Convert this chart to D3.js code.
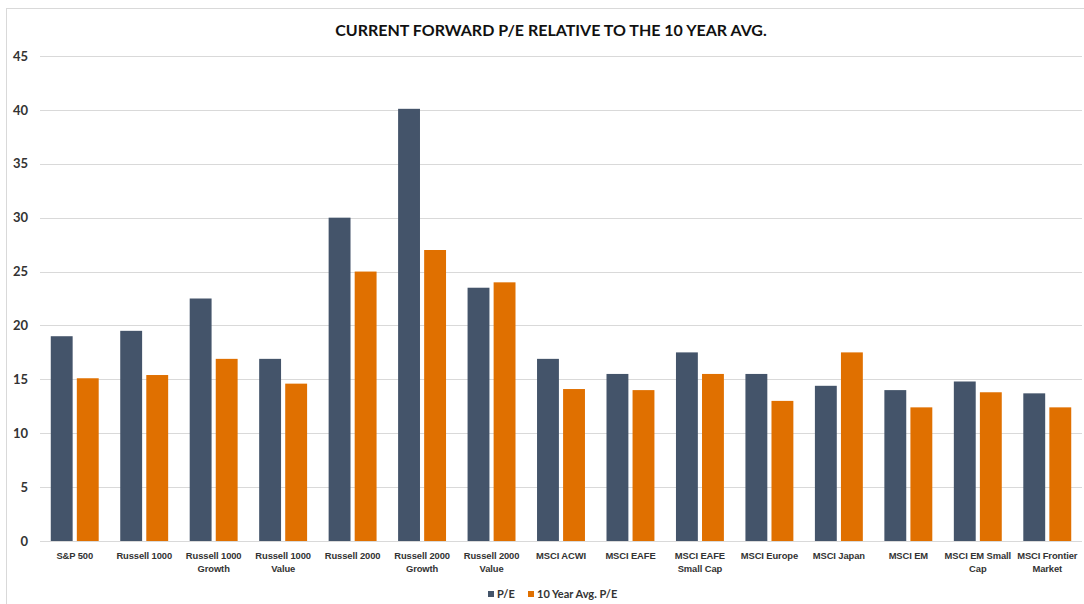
<!DOCTYPE html>
<html>
<head>
<meta charset="utf-8">
<script src="https://cdn.jsdelivr.net/npm/d3@7"></script>
<style>
  html, body { margin: 0; padding: 0; background: #ffffff; }
  svg { display: block; font-family: Lato, "Open Sans", sans-serif; }
</style>
</head>
<body>
<svg id="chart" width="1084" height="604"></svg>
<script>
const categories = [
  ["S&P 500"], ["Russell 1000"], ["Russell 1000", "Growth"], ["Russell 1000", "Value"],
  ["Russell 2000"], ["Russell 2000", "Growth"], ["Russell 2000", "Value"],
  ["MSCI ACWI"], ["MSCI EAFE"], ["MSCI EAFE", "Small Cap"], ["MSCI Europe"],
  ["MSCI Japan"], ["MSCI EM"], ["MSCI EM Small", "Cap"], ["MSCI Frontier", "Market"]
];
const seriesNames = ["P/E", "10 Year Avg. P/E"];
const peValues  = [19, 19.5, 22.5, 16.9, 30, 40.1, 23.5, 16.9, 15.5, 17.5, 15.5, 14.4, 14, 14.8, 13.7];
const avgValues = [15.1, 15.4, 16.9, 14.6, 25, 27, 24, 14.1, 14, 15.5, 13, 17.5, 12.4, 13.8, 12.4];
const yTicks = [0, 5, 10, 15, 20, 25, 30, 35, 40, 45];
const title = "CURRENT FORWARD P/E RELATIVE TO THE 10 YEAR AVG.";
const colors = ["#44546A", "#E07000"];

const svg = d3.select("#chart");
const plotLeft = 40, plotRight = 1082, plotTop = 56, plotBottom = 541;

// border
svg.append("rect").attr("x", 6.5).attr("y", 8.5).attr("width", 1200).attr("height", 800)
  .attr("fill", "none").attr("stroke", "#d9d9d9");

svg.append("text").attr("x", 551).attr("y", 36).attr("text-anchor", "middle")
  .attr("font-size", 16).attr("font-weight", 700).attr("fill", "#111").text(title);

const keys = categories.map((c, i) => i);
const x0 = d3.scaleBand().domain(keys).range([plotLeft, plotRight]).paddingInner(0.31).paddingOuter(0.155);
const x1 = d3.scaleBand().domain(seriesNames).range([0, x0.bandwidth()]).paddingInner(0.16);
const y = d3.scaleLinear().domain([0, 45]).range([plotBottom, plotTop]);

// gridlines
svg.append("g").selectAll("line").data(yTicks.filter(t => t > 0)).join("line")
  .attr("x1", plotLeft).attr("x2", plotRight)
  .attr("y1", d => Math.round(y(d)) + 0.5).attr("y2", d => Math.round(y(d)) + 0.5)
  .attr("stroke", "#d9d9d9").attr("stroke-width", 1);

// y axis labels
const yAxis = d3.axisLeft(y).tickValues(yTicks).tickSize(0).tickPadding(0);
const yg = svg.append("g").attr("transform", `translate(28,0)`).call(yAxis);
yg.select(".domain").remove();
yg.selectAll("text").attr("font-size", 13).attr("font-weight", 700).attr("fill", "#333")
  .attr("font-family", "Lato, sans-serif");

// bars
const data = categories.map((c, i) => ({ i, vals: [peValues[i], avgValues[i]] }));
const groups = svg.append("g").selectAll("g").data(data).join("g")
  .attr("transform", d => `translate(${x0(d.i)},0)`);
groups.selectAll("rect").data(d => d.vals.map((v, k) => ({ v, k }))).join("rect")
  .attr("x", d => x1(seriesNames[d.k]))
  .attr("width", x1.bandwidth())
  .attr("y", d => y(d.v))
  .attr("height", d => y(0) - y(d.v))
  .attr("fill", d => colors[d.k]);

// x axis
svg.append("line").attr("x1", plotLeft).attr("x2", plotRight).attr("y1", plotBottom + 0.5).attr("y2", plotBottom + 0.5)
  .attr("stroke", "#d9d9d9");
const xAxis = d3.axisBottom(x0).tickSize(0).tickFormat(() => "");
const xg = svg.append("g").attr("transform", `translate(0,${plotBottom})`).call(xAxis);
xg.select(".domain").remove();
xg.selectAll(".tick").each(function(d) {
  const t = d3.select(this).append("text").attr("text-anchor", "middle")
    .attr("font-size", 9.4).attr("font-weight", 700).attr("fill", "#333")
    .attr("letter-spacing", -0.1);
  categories[d].forEach((line, j) => {
    t.append("tspan").attr("x", 0).attr("y", 18 + j * 13).text(line);
  });
});

// legend
const legendItems = [{ name: seriesNames[0], x: 488 }, { name: seriesNames[1], x: 528 }];
const lg = svg.append("g").selectAll("g").data(legendItems).join("g")
  .attr("transform", d => `translate(${d.x},0)`);
lg.append("rect").attr("x", 0).attr("y", 591).attr("width", 6).attr("height", 6)
  .attr("fill", (d, i) => colors[i]);
lg.append("text").attr("x", 9).attr("y", 598).attr("font-size", 11).attr("font-weight", 700)
  .attr("fill", "#333").text(d => d.name);
</script>
</body>
</html>
